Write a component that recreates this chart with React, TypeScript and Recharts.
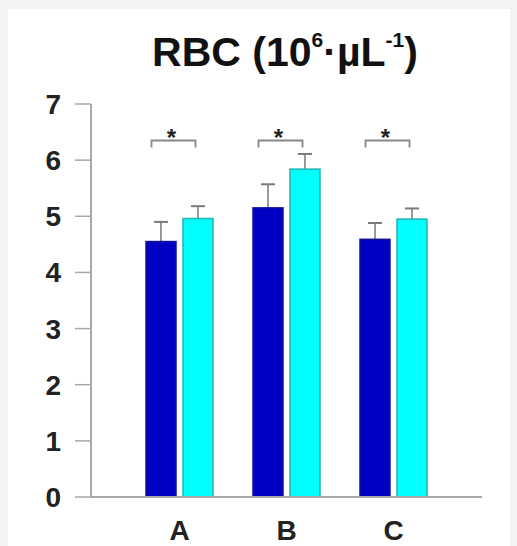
import React from 'react';
import { ComposedChart, Bar, XAxis, YAxis, Scatter } from 'recharts';

const categories = ['A', 'B', 'C'];
const darkValues = [4.55, 5.15, 4.59];
const darkErrors = [0.35, 0.42, 0.29];
const lightValues = [4.96, 5.84, 4.95];
const lightErrors = [0.22, 0.27, 0.19];
const sigLevels = [6.35, 6.35, 6.35];
const sigLabels = ['*', '*', '*'];
const yTicks = [0, 1, 2, 3, 4, 5, 6, 7];

const data = categories.map((c, i) => ({
  name: c,
  dark: darkValues[i],
  darkErr: darkErrors[i],
  light: lightValues[i],
  lightErr: lightErrors[i],
  sig: sigLevels[i],
  sigLabel: sigLabels[i],
}));

const FONT = '"Liberation Sans", Arial, sans-serif';
const AXIS = '#a8a8a8';

const makeBarShape = (fill: string, stroke: string, errKey: string, valKey: string) => (props: any) => {
  const { x, y, width, height, payload } = props;
  const v = payload[valKey];
  const e = payload[errKey];
  const errPx = v ? (e * height) / v : 0;
  const cx = x + width / 2;
  return (
    <g>
      <line x1={cx} x2={cx} y1={y} y2={y - errPx} stroke="#9a9a9a" strokeWidth={2} />
      <line x1={cx - 7} x2={cx + 7} y1={y - errPx} y2={y - errPx} stroke="#7a7a7a" strokeWidth={2} />
      <rect x={x} y={y} width={width} height={height} fill={fill} stroke={stroke} strokeWidth={1.5} />
    </g>
  );
};

const SigShape = (props: any) => {
  const { cx, cy, payload } = props;
  const c = cx - 6;
  const half = 22;
  return (
    <g>
      <path
        d={`M${c - half},${cy + 7} L${c - half},${cy} L${c + half},${cy} L${c + half},${cy + 7}`}
        fill="none"
        stroke="#888"
        strokeWidth={1.8}
      />
      <text x={c - 2} y={cy + 5.5} textAnchor="middle" fontFamily={FONT} fontWeight="bold" fontSize={24} fill="#222">
        {payload.sigLabel}
      </text>
    </g>
  );
};

const supStyle: React.CSSProperties = { fontSize: 21, verticalAlign: 'top', position: 'relative', top: -12 };

export default function App() {
  return (
    <div style={{ position: 'fixed', left: 0, top: 0, width: 517, height: 546, background: '#f3f3f3', overflow: 'hidden' }}>
      <div style={{ position: 'absolute', left: 8, top: 9, width: 502, height: 537, background: '#ffffff' }} />
      <div
        style={{
          position: 'absolute',
          left: 53,
          width: 464,
          top: 26,
          textAlign: 'center',
          fontFamily: FONT,
          fontWeight: 'bold',
          fontSize: 41,
          lineHeight: '52px',
          color: '#111',
          whiteSpace: 'nowrap',
        }}
      >
        RBC (10<sup style={supStyle}>6</sup>·µL<sup style={supStyle}>-1</sup>)
      </div>
      <div style={{ position: 'absolute', left: 0, top: 0 }}>
        <ComposedChart
          width={517}
          height={546}
          data={data}
          margin={{ top: 104, right: 35, bottom: 0, left: 31 }}
          barSize={30}
          barGap={7}
        >
          <XAxis
            dataKey="name"
            xAxisId="main"
            padding={{ left: 35, right: 35 }}
            height={49}
            axisLine={{ stroke: AXIS, strokeWidth: 2 }}
            tickLine={false}
            tickSize={0}
            tickMargin={23}
            tick={{ fontFamily: FONT, fontWeight: 'bold', fontSize: 28, fill: '#222' }}
          />
          <XAxis
            dataKey="name"
            xAxisId="top"
            orientation="top"
            height={0}
            padding={{ left: 35, right: 35 }}
            axisLine={{ stroke: AXIS, strokeWidth: 2 }}
            tickLine={false}
            tick={false}
          />
          <YAxis
            yAxisId="main"
            domain={[0, 7]}
            ticks={yTicks}
            width={60}
            interval={0}
            axisLine={{ stroke: AXIS, strokeWidth: 2 }}
            tickLine={{ stroke: AXIS, strokeWidth: 1.5 }}
            tickSize={16}
            tickMargin={14}
            tick={{ fontFamily: FONT, fontWeight: 'bold', fontSize: 28, fill: '#222' }}
          />
          <YAxis
            yAxisId="right"
            orientation="right"
            domain={[0, 7]}
            width={0}
            axisLine={{ stroke: AXIS, strokeWidth: 2.5 }}
            tickLine={false}
            tick={false}
          />
          <Bar
            dataKey="dark"
            xAxisId="main"
            yAxisId="main"
            isAnimationActive={false}
            shape={makeBarShape('#0000c4', '#12129a', 'darkErr', 'dark')}
          />
          <Bar
            dataKey="light"
            xAxisId="main"
            yAxisId="main"
            isAnimationActive={false}
            shape={makeBarShape('#00ffff', '#22b4b4', 'lightErr', 'light')}
          />
          <Scatter dataKey="sig" xAxisId="main" yAxisId="main" isAnimationActive={false} shape={SigShape} />
        </ComposedChart>
      </div>
    </div>
  );
}
